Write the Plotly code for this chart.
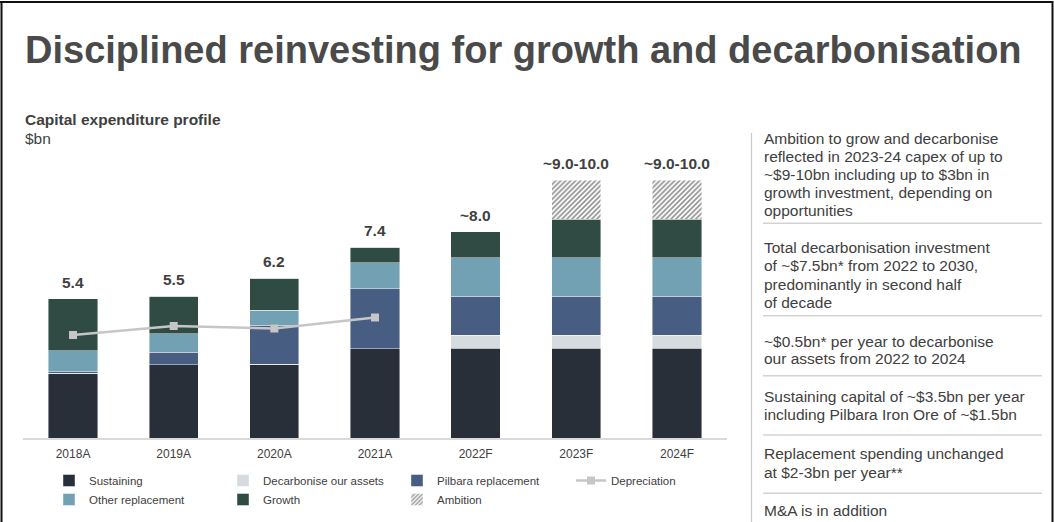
import plotly.graph_objects as go

W, H = 1054, 522

# ---- data ($bn) ----
years = ["2018A", "2019A", "2020A", "2021A", "2022F", "2023F", "2024F"]
sustaining = [2.52, 2.85, 2.88, 3.48, 3.5, 3.5, 3.5]
decarbonise = [0, 0, 0, 0, 0.5, 0.5, 0.5]
pilbara = [0.06, 0.48, 1.51, 2.32, 1.5, 1.5, 1.5]
other_replacement = [0.82, 0.72, 0.58, 1.0, 1.5, 1.5, 1.5]
growth = [2.0, 1.45, 1.23, 0.6, 1.0, 1.5, 1.5]
ambition = [0, 0, 0, 0, 0, 1.5, 1.5]
depreciation = [4.0, 4.35, 4.26, 4.68, None, None, None]
total_labels = ["5.4", "5.5", "6.2", "7.4", "~8.0", "~9.0-10.0", "~9.0-10.0"]

notes = [
    ["Ambition to grow and decarbonise", "reflected in 2023-24 capex of up to",
     "~$9-10bn including up to $3bn in", "growth investment, depending on", "opportunities"],
    ["Total decarbonisation investment", "of ~$7.5bn* from 2022 to 2030,",
     "predominantly in second half", "of decade"],
    ["~$0.5bn* per year to decarbonise", "our assets from 2022 to 2024"],
    ["Sustaining capital of ~$3.5bn per year", "including Pilbara Iron Ore of ~$1.5bn"],
    ["Replacement spending unchanged", "at $2-3bn per year**"],
    ["M&A is in addition"],
]

# ---- styling ----
FONT = "Arial, Liberation Sans, sans-serif"
TEXT = "#404040"
C_SUST = "#282F39"
C_DECARB = "#D5DBDF"
C_PILB = "#475E82"
C_OTHER = "#72A1B3"
C_GROWTH = "#2F4B43"
C_DEP = "#C6C6C6"


def px(x):
    return x / W


def py(y):
    return 1 - y / H


fig = go.Figure()

seg_line = dict(color="rgba(255,255,255,0.55)", width=0.8)
bar_specs = [
    ("Sustaining", sustaining, dict(color=C_SUST), "legend"),
    ("Decarbonise our assets", decarbonise, dict(color=C_DECARB), "legend"),
    ("Pilbara replacement", pilbara, dict(color=C_PILB), "legend"),
    ("Other replacement", other_replacement, dict(color=C_OTHER), "legend2"),
    ("Growth", growth, dict(color=C_GROWTH), "legend2"),
    ("Ambition", ambition,
     dict(color="white", pattern=dict(shape="/", fgcolor="#2E2E2E", bgcolor="white",
                                      size=3.5, solidity=0.5)), "legend2"),
]
for name, vals, marker, lg in bar_specs:
    fig.add_trace(go.Bar(
        x=years, y=vals, name=name, legend=lg,
        marker=dict(**marker, line=seg_line),
        hoverinfo="skip",
    ))

fig.add_trace(go.Scatter(
    x=years, y=depreciation, name="Depreciation", legend="legend",
    mode="lines+markers",
    line=dict(color=C_DEP, width=2.5),
    marker=dict(symbol="square", size=8, color=C_DEP),
    hoverinfo="skip",
))

# legend ordering: depreciation last in first row
fig.data[-1].legendrank = 4
for i, tr in enumerate(fig.data[:-1]):
    tr.legendrank = i

# total labels above the stacks
totals = [sum(v) for v in zip(sustaining, decarbonise, pilbara, other_replacement, growth, ambition)]
annotations = []
for yr, tot, lab in zip(years, totals, total_labels):
    annotations.append(dict(
        x=yr, y=tot, xref="x", yref="y", text=lab, showarrow=False,
        yanchor="bottom", yshift=6,
        font=dict(family=FONT, size=15.5, color=TEXT, weight="bold"),
    ))

# headings
annotations.append(dict(
    x=px(23), y=py(49.5), xref="paper", yref="paper", xanchor="left", yanchor="middle",
    text="<b>Disciplined reinvesting for growth and decarbonisation</b>", showarrow=False,
    font=dict(family=FONT, size=38, color="#4A4A4A"),
))
annotations.append(dict(
    x=px(23), y=py(120), xref="paper", yref="paper", xanchor="left", yanchor="middle",
    text="<b>Capital expenditure profile</b>", showarrow=False,
    font=dict(family=FONT, size=15.5, color=TEXT),
))
annotations.append(dict(
    x=px(23), y=py(138), xref="paper", yref="paper", xanchor="left", yanchor="middle",
    text="$bn", showarrow=False,
    font=dict(family=FONT, size=15.5, color=TEXT),
))

# commentary panel
line_y = [
    [138.3, 156.3, 174.3, 192.3, 210.3],
    [247.7, 265.7, 284.0, 302.3],
    [341.0, 358.7],
    [396.7, 414.7],
    [453.3, 472.3],
    [510.0],
]
for block, ys in zip(notes, line_y):
    for txt, yy in zip(block, ys):
        annotations.append(dict(
            x=px(762), y=py(yy), xref="paper", yref="paper", xanchor="left", yanchor="middle",
            text=txt, showarrow=False,
            font=dict(family=FONT, size=15.5, color=TEXT),
        ))

shapes = []
for yy in [223.3, 315.7, 375.7, 435.0, 493.3]:
    shapes.append(dict(type="line", xref="paper", yref="paper",
                       x0=px(763), x1=px(1042), y0=py(yy), y1=py(yy),
                       line=dict(color="#D3D3D3", width=1.5)))
shapes.append(dict(type="line", xref="paper", yref="paper",
                   x0=px(751.5), x1=px(751.5), y0=py(133), y1=py(522),
                   line=dict(color="#C8C8C8", width=1.2)))
# frame
shapes.append(dict(type="line", xref="paper", yref="paper", x0=px(1.5), x1=px(1.5),
                   y0=py(1), y1=py(522), line=dict(color="#111111", width=2)))
shapes.append(dict(type="line", xref="paper", yref="paper", x0=px(0), x1=px(1053),
                   y0=py(2), y1=py(2), line=dict(color="#111111", width=2)))
shapes.append(dict(type="line", xref="paper", yref="paper", x0=px(1052.5), x1=px(1052.5),
                   y0=py(1), y1=py(522), line=dict(color="#111111", width=2)))

legend_common = dict(
    orientation="h", xanchor="left", yanchor="top",
    font=dict(family=FONT, size=11.5, color=TEXT),
    entrywidth=129, entrywidthmode="pixels",
    itemwidth=30, bgcolor="rgba(0,0,0,0)", borderwidth=0,
    traceorder="normal", itemclick=False, itemdoubleclick=False,
)

fig.update_layout(
    width=W, height=H,
    margin=dict(l=0, r=0, t=0, b=0, autoexpand=False),
    paper_bgcolor="white", plot_bgcolor="white",
    barmode="stack", bargap=0.51,
    showlegend=True,
    legend=dict(**legend_common, x=px(49), y=py(466)),
    legend2=dict(**legend_common, x=px(49), y=py(485)),
    xaxis=dict(
        domain=[px(22.7), px(727.3)], range=[-0.5, 6.5],
        showline=True, linecolor="#DADADA", linewidth=1.5,
        showgrid=False, zeroline=False, ticks="",
        ticklabelstandoff=4,
        tickfont=dict(family=FONT, size=12, color=TEXT),
        fixedrange=True,
    ),
    yaxis=dict(
        domain=[py(438.3), py(154.5)], range=[0, 11],
        visible=False, showgrid=False, zeroline=False, fixedrange=True,
    ),
    annotations=annotations,
    shapes=shapes,
    hovermode=False,
)

fig.write_html("out.html", config={"displayModeBar": False})
